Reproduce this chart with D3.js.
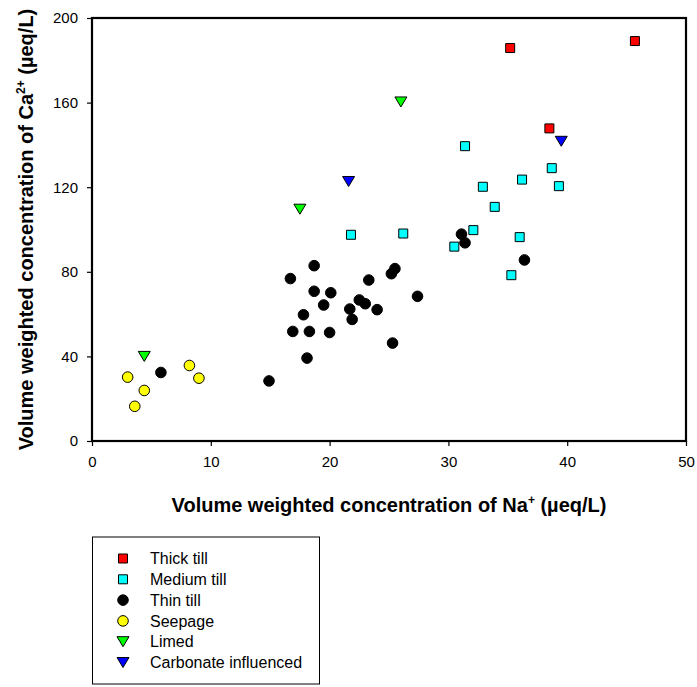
<!DOCTYPE html>
<html>
<head>
<meta charset="utf-8">
<script src="https://cdn.jsdelivr.net/npm/d3@7"></script>
<style>
  html, body { margin: 0; padding: 0; background: #fff; }
  svg { display: block; font-family: "Liberation Sans", Arial, sans-serif; }
</style>
</head>
<body>
<svg id="chart" width="697" height="687"></svg>
<script>
// Na+ (x) and Ca2+ (y) volume weighted concentrations, µeq/L, by group
const thickTillX = [35.2, 45.7, 38.5];
const thickTillY = [185.8, 189.1, 147.8];

const mediumTillX = [31.4, 38.7, 36.2, 32.9, 39.3, 33.9, 21.8, 26.2, 32.1, 36.0, 30.5, 35.3];
const mediumTillY = [139.4, 129.0, 123.6, 120.2, 120.5, 110.7, 97.5, 98.1, 99.7, 96.4, 91.9, 78.4];

const thinTillX = [31.1, 31.4, 36.4, 18.7, 16.7, 23.3, 25.2, 25.5, 18.7, 20.1, 27.4, 19.5, 22.5,
                   23.0, 21.7, 24.0, 17.8, 21.9, 16.9, 18.3, 20.0, 25.3, 18.1, 14.9, 5.8];
const thinTillY = [97.8, 93.7, 85.6, 82.9, 76.8, 76.1, 79.1, 81.5, 70.8, 70.1, 68.4, 64.3, 66.7,
                   64.9, 62.4, 62.1, 59.7, 57.5, 51.8, 51.8, 51.3, 46.3, 39.2, 28.4, 32.4];

const seepageX = [3.0, 4.4, 3.6, 8.2, 9.0];
const seepageY = [30.2, 23.9, 16.4, 35.7, 29.7];

const limedX = [26.0, 17.5, 4.4];
const limedY = [160.3, 109.6, 40.0];

const carbonateX = [39.5, 21.6];
const carbonateY = [141.7, 122.7];

const xTicks = [0, 10, 20, 30, 40, 50];
const yTicks = [0, 40, 80, 120, 160, 200];

const seriesNames = ["Thick till", "Medium till", "Thin till", "Seepage", "Limed", "Carbonate influenced"];
const seriesColors = ["#ff0000", "#00ffff", "#000000", "#ffff00", "#00ff00", "#0000ff"];
const seriesShapes = ["square", "square", "circle", "circle", "triangle", "triangle"];

const zip = (xs, ys) => xs.map((x, i) => ({ x, y: ys[i] }));
const series = [
  zip(thickTillX, thickTillY),
  zip(mediumTillX, mediumTillY),
  zip(thinTillX, thinTillY),
  zip(seepageX, seepageY),
  zip(limedX, limedY),
  zip(carbonateX, carbonateY)
].map((pts, i) => ({ name: seriesNames[i], color: seriesColors[i], shape: seriesShapes[i], pts }));

const svg = d3.select("#chart");
const plot = { left: 92, right: 686, top: 18, bottom: 441 };

const x = d3.scaleLinear().domain([0, 50]).range([plot.left, plot.right]);
const y = d3.scaleLinear().domain([0, 200]).range([plot.bottom, plot.top]);

// Marker paths centred on the origin
const shapePath = {
  square: "M-4.5,-4.5H4.5V4.5H-4.5Z",
  circle: d3.symbol(d3.symbolCircle, Math.PI * 5.3 * 5.3)(),
  triangle: "M-6,-5L6,-5L0,5Z"
};

// Axes
const xAxis = d3.axisBottom(x).tickValues(xTicks).tickSize(5).tickPadding(10);
const yAxis = d3.axisLeft(y).tickValues(yTicks).tickSize(5).tickPadding(9);

const gx = svg.append("g").attr("transform", `translate(0,${plot.bottom})`).call(xAxis);
const gy = svg.append("g").attr("transform", `translate(${plot.left},0)`).call(yAxis);
[gx, gy].forEach(g => {
  g.select(".domain").remove();
  g.selectAll(".tick line").attr("stroke", "#000").attr("stroke-width", 1.2);
  g.selectAll(".tick text").attr("fill", "#000")
    .style("font-size", "15px").style("font-family", "'Liberation Sans', Arial, sans-serif");
});

// Plot frame
svg.append("rect")
  .attr("x", plot.left).attr("y", plot.top)
  .attr("width", plot.right - plot.left).attr("height", plot.bottom - plot.top)
  .attr("fill", "none").attr("stroke", "#000").attr("stroke-width", 2.2);

// Points
const groups = svg.append("g").selectAll("g").data(series).join("g");
groups.selectAll("path")
  .data(d => d.pts.map(p => ({ ...p, s: d })))
  .join("path")
  .attr("d", d => shapePath[d.s.shape])
  .attr("transform", d => `translate(${x(d.x)},${y(d.y)})`)
  .attr("fill", d => d.s.color)
  .attr("stroke", "#000")
  .attr("stroke-width", 1);

// Axis titles
const xTitle = svg.append("text")
  .attr("x", (plot.left + plot.right) / 2).attr("y", 512)
  .attr("text-anchor", "middle")
  .style("font-size", "20px").style("font-weight", "bold");
xTitle.append("tspan").text("Volume weighted concentration of Na");
xTitle.append("tspan").attr("dy", -8).style("font-size", "12px").text("+");
xTitle.append("tspan").attr("dy", 8).text(" (µeq/L)");

const yTitle = svg.append("text")
  .attr("transform", `translate(33,${(plot.top + plot.bottom) / 2}) rotate(-90)`)
  .attr("text-anchor", "middle")
  .style("font-size", "20px").style("font-weight", "bold");
yTitle.append("tspan").text("Volume weighted concentration of Ca");
yTitle.append("tspan").attr("dy", -8).style("font-size", "12px").text("2+");
yTitle.append("tspan").attr("dy", 8).text(" (µeq/L)");

// Legend
const legend = svg.append("g");
legend.append("rect")
  .attr("x", 92.5).attr("y", 537).attr("width", 227).attr("height", 147)
  .attr("fill", "#fff").attr("stroke", "#000").attr("stroke-width", 1);

const legendRow = d3.scaleLinear().domain([0, 5]).range([558.5, 662.5]);
const rows = legend.selectAll("g.row").data(series).join("g")
  .attr("class", "row")
  .attr("transform", (d, i) => `translate(0,${legendRow(i)})`);
rows.append("path")
  .attr("d", d => shapePath[d.shape])
  .attr("transform", "translate(123,0)")
  .attr("fill", d => d.color).attr("stroke", "#000").attr("stroke-width", 1);
rows.append("text")
  .attr("x", 150).attr("y", 0).attr("dy", "0.36em")
  .style("font-size", "16px")
  .text(d => d.name);
</script>
</body>
</html>
